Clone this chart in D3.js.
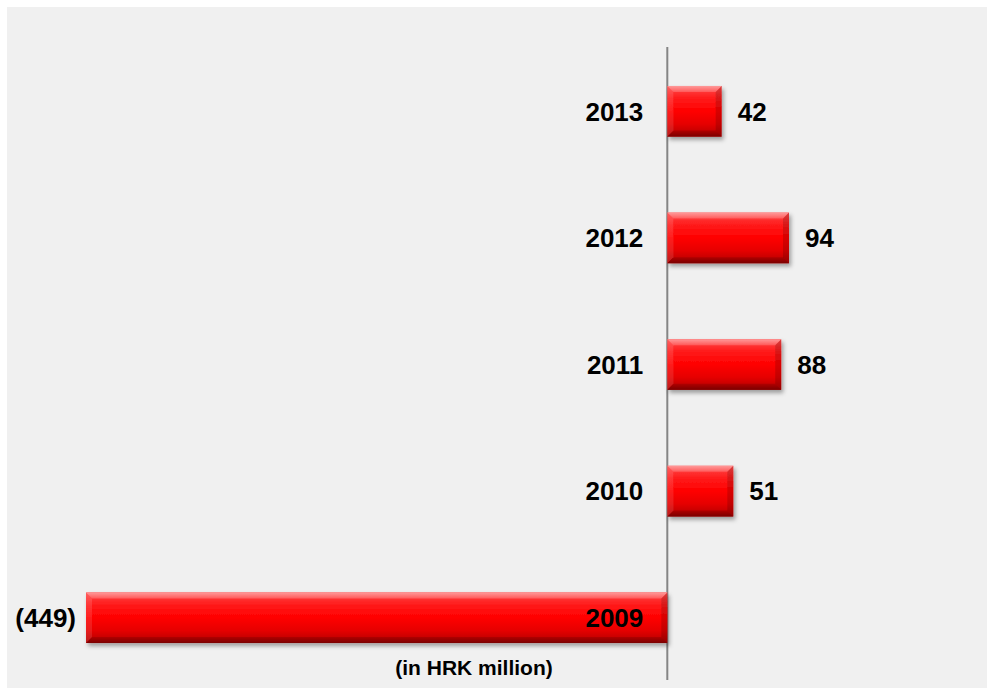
<!DOCTYPE html>
<html>
<head>
<meta charset="utf-8">
<script src="https://cdn.jsdelivr.net/npm/d3@7"></script>
<style>
  html, body { margin: 0; padding: 0; background: #ffffff; }
  svg { display: block; }
  text { font-family: "Liberation Sans", Arial, sans-serif; font-weight: bold; fill: #000; }
</style>
</head>
<body>
<svg id="chart" width="987" height="688"></svg>
<script>
// Net result by year (HRK million)
const years = ["2013", "2012", "2011", "2010", "2009"];
const values = [42, 94, 88, 51, -449];
const unitNote = "(in HRK million)";

const W = 987, H = 688;
const svg = d3.select("#chart");

// light gray panel
svg.append("rect")
  .attr("x", 7).attr("y", 7)
  .attr("width", W - 7).attr("height", H - 7)
  .attr("fill", "#f0f0f0");

const defs = svg.append("defs");

const grad = defs.append("linearGradient")
  .attr("id", "barFace").attr("x1", 0).attr("y1", 0).attr("x2", 0).attr("y2", 1);
[[0, "#ff4a4a"], [0.25, "#ff1a1a"], [0.5, "#ff0000"], [0.75, "#e60000"], [1, "#b00000"]]
  .forEach(([o, c]) => grad.append("stop").attr("offset", o).attr("stop-color", c));

const topGrad = defs.append("linearGradient")
  .attr("id", "bevelTop").attr("x1", 0).attr("y1", 0).attr("x2", 0).attr("y2", 1);
topGrad.append("stop").attr("offset", 0).attr("stop-color", "#ff9a9a");
topGrad.append("stop").attr("offset", 1).attr("stop-color", "#ff5a5a");

const botGrad = defs.append("linearGradient")
  .attr("id", "bevelBottom").attr("x1", 0).attr("y1", 0).attr("x2", 0).attr("y2", 1);
botGrad.append("stop").attr("offset", 0).attr("stop-color", "#b00000");
botGrad.append("stop").attr("offset", 1).attr("stop-color", "#7a0000");

const shadow = defs.append("filter").attr("id", "barShadow")
  .attr("x", "-5%").attr("y", "-20%").attr("width", "115%").attr("height", "150%");
shadow.append("feDropShadow")
  .attr("dx", 2).attr("dy", 3).attr("stdDeviation", 2)
  .attr("flood-color", "#000").attr("flood-opacity", 0.35);

// scales
const x = d3.scaleLinear().domain([-449, 94]).range([86, 789]);
const y = d3.scaleBand().domain(years).range([48, 681]).paddingInner(0.6).paddingOuter(0.3);

const data = years.map((yr, i) => ({ year: yr, value: values[i] }));

// zero axis
const axis = d3.axisLeft(y).tickSize(0).tickFormat("");
const axisG = svg.append("g")
  .attr("transform", `translate(${x(0)},0)`)
  .call(axis);
axisG.select(".domain")
  .attr("d", `M0,47V680`)
  .attr("stroke", "#858585").attr("stroke-width", 2);

const bevel = 6;
const bars = svg.append("g").selectAll("g.bar").data(data).join("g")
  .attr("class", "bar")
  .attr("filter", "url(#barShadow)");

bars.each(function (d) {
  const g = d3.select(this);
  const x0 = Math.min(x(0), x(d.value)), x1 = Math.max(x(0), x(d.value));
  const y0 = y(d.year), y1 = y(d.year) + y.bandwidth();
  const b = Math.min(bevel, (x1 - x0) / 2);
  g.append("rect")
    .attr("x", x0).attr("y", y0)
    .attr("width", x1 - x0).attr("height", y1 - y0)
    .attr("fill", "url(#barFace)");
  const poly = pts => pts.map(p => p.join(",")).join(" ");
  g.append("polygon")
    .attr("points", poly([[x0, y0], [x1, y0], [x1 - b, y0 + b], [x0 + b, y0 + b]]))
    .attr("fill", "url(#bevelTop)");
  g.append("polygon")
    .attr("points", poly([[x0, y1], [x1, y1], [x1 - b, y1 - b], [x0 + b, y1 - b]]))
    .attr("fill", "url(#bevelBottom)");
  g.append("polygon")
    .attr("points", poly([[x0, y0], [x0 + b, y0 + b], [x0 + b, y1 - b], [x0, y1]]))
    .attr("fill", "#ffffff").attr("fill-opacity", 0.12);
  g.append("polygon")
    .attr("points", poly([[x1, y0], [x1 - b, y0 + b], [x1 - b, y1 - b], [x1, y1]]))
    .attr("fill", "#000000").attr("fill-opacity", 0.15);
});

// year labels
svg.append("g").selectAll("text").data(data).join("text")
  .attr("x", x(0) - 24)
  .attr("y", d => y(d.year) + y.bandwidth() / 2)
  .attr("dy", "0.36em")
  .attr("text-anchor", "end")
  .attr("font-size", 26)
  .text(d => d.year);

// value labels
const fmt = v => v < 0 ? `(${Math.abs(v)})` : `${v}`;
svg.append("g").selectAll("text").data(data).join("text")
  .attr("x", d => d.value < 0 ? x(d.value) - 10 : x(d.value) + 16)
  .attr("y", d => y(d.year) + y.bandwidth() / 2)
  .attr("dy", "0.36em")
  .attr("text-anchor", d => d.value < 0 ? "end" : "start")
  .attr("font-size", 26)
  .text(d => fmt(d.value));

// unit note
svg.append("text")
  .attr("x", 474).attr("y", 675)
  .attr("text-anchor", "middle")
  .attr("font-size", 21)
  .text(unitNote);
</script>
</body>
</html>
